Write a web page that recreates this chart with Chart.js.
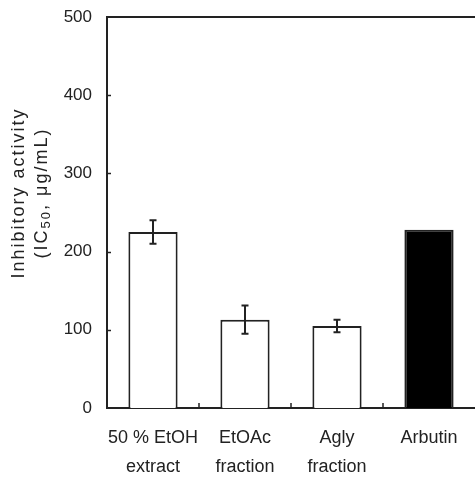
<!DOCTYPE html>
<html>
<head>
<meta charset="utf-8">
<script src="https://cdn.jsdelivr.net/npm/chart.js@4.4.0/dist/chart.umd.min.js"></script>
<style>
	html, body { margin: 0; padding: 0; background: #fff; }
	#wrap { width: 475px; height: 477px; }
</style>
</head>
<body>
<div id="wrap"><canvas id="canvas-ic50"></canvas></div>
<script>
// Data
var categories = [['50 % EtOH', 'extract'], ['EtOAc', 'fraction'], ['Agly', 'fraction'], ['Arbutin']];
var ic50 = [225, 113, 105, 228];
var ic50Err = [15, 18, 8, 0];
var barColors = ['#ffffff', '#ffffff', '#ffffff', '#000000'];
var yTicks = [0, 100, 200, 300, 400, 500];

var lineColor = '#222';
var fontFamily = '"Liberation Sans", Arial, sans-serif';

// Extra bits the library doesn't draw: error bars, inner ticks, top border, axis title
var decorations = {
	id: 'decorations',
	afterDatasetsDraw: function (chart) {
		var ctx = chart.ctx;
		var area = chart.chartArea;
		var x = chart.scales.x;
		var y = chart.scales.y;
		var meta = chart.getDatasetMeta(0);

		ctx.save();
		ctx.strokeStyle = lineColor;
		ctx.lineWidth = 2;

		// error bars
		meta.data.forEach(function (bar, i) {
			var err = ic50Err[i];
			if (!err) return;
			var top = y.getPixelForValue(ic50[i] + err);
			var bot = y.getPixelForValue(ic50[i] - err);
			ctx.beginPath();
			ctx.moveTo(bar.x, top);
			ctx.lineTo(bar.x, bot);
			ctx.moveTo(bar.x - 3.5, top);
			ctx.lineTo(bar.x + 3.5, top);
			ctx.moveTo(bar.x - 3.5, bot);
			ctx.lineTo(bar.x + 3.5, bot);
			ctx.stroke();
		});

		// top border
		ctx.beginPath();
		ctx.moveTo(area.left - 1, area.top);
		ctx.lineTo(area.right, area.top);
		ctx.stroke();

		// inward y ticks
		ctx.lineWidth = 1.5;
		yTicks.forEach(function (v) {
			if (v === 0 || v === 500) return;
			var py = Math.round(y.getPixelForValue(v)) + 0.5;
			ctx.beginPath();
			ctx.moveTo(area.left, py);
			ctx.lineTo(area.left + 4, py);
			ctx.stroke();
		});

		// upward x ticks between categories
		for (var i = 1; i < categories.length; i++) {
			var px = (x.getPixelForValue(i - 1) + x.getPixelForValue(i)) / 2;
			ctx.beginPath();
			ctx.moveTo(px, area.bottom);
			ctx.lineTo(px, area.bottom - 5);
			ctx.stroke();
		}

		// y axis title with subscript
		ctx.fillStyle = lineColor;
		ctx.textAlign = 'center';
		ctx.textBaseline = 'middle';
		ctx.translate(0, 193);
		ctx.rotate(-Math.PI / 2);
		ctx.letterSpacing = '2px';
		ctx.font = '18px ' + fontFamily;
		ctx.fillText('Inhibitory activity', 0, 19);

		var parts = [
			{ t: '(IC', f: '18px ' + fontFamily, dy: 0 },
			{ t: '50', f: '13px ' + fontFamily, dy: 4 },
			{ t: ', \u03bcg/mL)', f: '18px ' + fontFamily, dy: 0 }
		];
		var total = 0;
		parts.forEach(function (p) {
			ctx.font = p.f;
			p.w = ctx.measureText(p.t).width;
			total += p.w;
		});
		ctx.textAlign = 'left';
		var cx = -total / 2;
		parts.forEach(function (p) {
			ctx.font = p.f;
			ctx.fillText(p.t, cx, 42 + p.dy);
			cx += p.w;
		});
		ctx.restore();
	}
};

var chart = new Chart(document.getElementById('canvas-ic50'), {
	type: 'bar',
	data: {
		labels: categories,
		datasets: [{
			data: ic50,
			backgroundColor: barColors,
			borderColor: lineColor,
			borderWidth: 2,
			borderSkipped: 'bottom',
			categoryPercentage: 1,
			barPercentage: 0.535
		}]
	},
	options: {
		responsive: true,
		maintainAspectRatio: false,
		animation: false,
		layout: { padding: { top: 17, right: 0, left: 0, bottom: 0 } },
		plugins: {
			legend: { display: false },
			tooltip: { enabled: false }
		},
		scales: {
			x: {
				offset: true,
				grid: { display: false, drawTicks: false },
				border: { display: true, color: lineColor, width: 2 },
				ticks: {
					color: lineColor,
					padding: 16,
					maxRotation: 0,
					autoSkip: false,
					font: { family: fontFamily, size: 18, lineHeight: 1.6 }
				},
				afterFit: function (scale) {
					scale.height = 69;
					scale.paddingLeft = 0;
					scale.paddingRight = 0;
				}
			},
			y: {
				min: 0,
				max: 500,
				afterBuildTicks: function (scale) {
					scale.ticks = yTicks.map(function (v) { return { value: v }; });
				},
				grid: { display: false, drawTicks: false },
				border: { display: true, color: lineColor, width: 2 },
				ticks: {
					color: lineColor,
					padding: 15,
					font: { family: fontFamily, size: 17 }
				},
				afterFit: function (scale) {
					scale.width = 107;
					scale.paddingTop = 0;
					scale.paddingBottom = 0;
				}
			}
		}
	},
	plugins: [decorations]
});
</script>
</body>
</html>
